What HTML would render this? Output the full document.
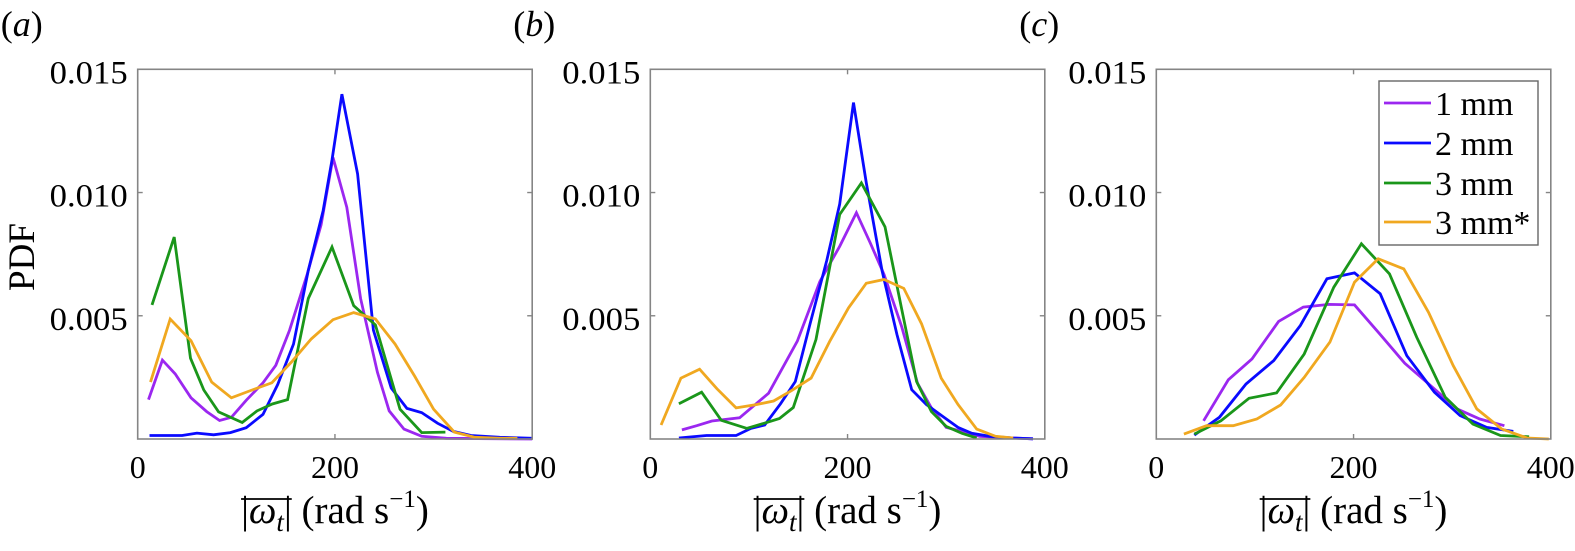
<!DOCTYPE html>
<html><head><meta charset="utf-8"><style>
html,body{margin:0;padding:0;background:#fff;}
svg, svg text{font-family:"Liberation Serif","DejaVu Serif",serif;}
svg{display:block;}
</style></head><body>
<svg id="chart" width="1575" height="551" viewBox="0 0 1575 551" xmlns="http://www.w3.org/2000/svg" font-family="Liberation Serif, DejaVu Serif, serif"></svg>
<script>
const xTicks=[0,200,400];
const yTicks=[0.005,0.010,0.015];
const yTickLabels=["0.005","0.010","0.015"];
const seriesNames=["1 mm","2 mm","3 mm","3 mm*"];
const seriesKeys=["1mm","2mm","3mm","3mm-star"];
const colors=["#9b27f0","#0a0aff","#1a961a","#f0a820"];
const panelLabels=["a","b","c"];
// panel a
const aX1=[11,25,38,54,70,83,95,110,127,140,154,172,186,198,212,226,243,255,270,288,313,400];
const aY1=[.0016,.0032,.00264,.00167,.00111,.00075,.00088,.00157,.00228,.00299,.00442,.0067,.00869,.01142,.0094,.0057,.00271,.00114,.0004,.00011,.00003,0];
const aX2=[12,31,45,60,77,94,110,127,142,158,173,188,197,207,223,239,257,273,288,304,320,338,367,400];
const aY2=[.00014,.00014,.00014,.00024,.00017,.00026,.00046,.001,.00221,.00385,.00684,.00926,.01132,.01399,.01075,.00442,.00207,.00124,.00107,.00064,.00031,.00014,.00007,.00003];
const aX3=[14.5,37,53.5,67,82,106,121,136.5,152,173,197,219,241,253,266,288,312];
const aY3=[.00544,.00819,.00328,.00199,.0011,.00067,.00114,.00142,.0016,.0057,.00779,.00541,.00463,.00299,.00121,.00026,.00028];
const aX4=[13,33,54,75,95,116,136,156,176,198,219,241,261,281,300,321,342,367,385];
const aY4=[.00231,.00487,.00399,.00231,.00167,.00199,.00228,.00313,.00406,.00484,.00513,.00487,.00385,.00254,.00121,.00028,.00007,.00003,.00003];
// panel b
const bX1=[32,47,62.5,90.5,120,149,172,192,209,223,237,255,271,285,300,314,334,368,388];
const bY1=[.00037,.00054,.00073,.00086,.00186,.00397,.00639,.00782,.00918,.00796,.00668,.00454,.00225,.00126,.00047,.00033,.00011,.00004,.00001];
const bX2=[29,57,87,102,116,132,147,162,179,192,206,219,235,250,265,280,297,312,326,344,368,388];
const bY2=[.00004,.00014,.00014,.00043,.00057,.00143,.00233,.00468,.00725,.00953,.01365,.01039,.00682,.00425,.002,.0014,.0009,.00047,.00023,.00011,.00004,.00001];
const bX3=[29,52,72,98,113,131,145,168,192,214,238,255,270,285,300,316,331];
const bY3=[.00143,.0019,.00076,.00043,.00061,.00083,.00128,.00404,.00911,.01039,.00861,.00525,.00233,.00111,.00051,.00023,.00004];
const bX4=[11,31,50,67.5,87,108,125,143.5,163,182,201,219,237,257,275,295,312,331,350,368];
const bY4=[.00057,.00247,.00283,.00204,.00126,.0014,.00154,.00197,.00247,.00397,.00532,.00632,.00647,.00611,.00468,.00247,.0014,.0004,.00011,.00004];
// panel c
const cX1=[48,73,97,124,149,175,201,226,252,278,305,328,353];
const cY1=[.00074,.0024,.00325,.00477,.00535,.00546,.00544,.00429,.00307,.00217,.00122,.00081,.00054];
const cX2=[38.5,64,91,119,146,173,201,227,254,282,308,335,362];
const cY2=[.00016,.00088,.00223,.00318,.0046,.0065,.00674,.00589,.00338,.0019,.00095,.00047,.00031];
const cX3=[38.5,65.5,94,122,150,180,208,236.5,264,293,321,349,378];
const cY3=[.0002,.00074,.00165,.00187,.00345,.00616,.00792,.0067,.00413,.00169,.00061,.00014,.00009];
const cX4=[28,51,78,102,126,150,176,201,225,251,276,301,325,350,376,398];
const cY4=[.0002,.00054,.00054,.00081,.00138,.0025,.00393,.00636,.00731,.0069,.00514,.00298,.00122,.00041,.00004,0];

const panelX=[[aX1,aX2,aX3,aX4],[bX1,bX2,bX3,bX4],[cX1,cX2,cX3,cX4]];
const panelY=[[aY1,aY2,aY3,aY4],[bY1,bY2,bY3,bY4],[cY1,cY2,cY3,cY4]];

const NS="http://www.w3.org/2000/svg";
const svg=document.getElementById('chart');
const FF='Liberation Serif, DejaVu Serif, serif';
function mk(tag,attrs,parent){const e=document.createElementNS(NS,tag);for(const k in attrs)e.setAttribute(k,attrs[k]);if(tag==='text')e.setAttribute('font-family',FF);(parent||svg).appendChild(e);return e;}
function tspan(parent,txt,attrs){const t=mk('tspan',attrs||{},parent);t.textContent=txt;return t;}
const lefts=[137.7,650.3,1156.3];
const plotW=394.5, yTop=69.3, yBottom=439;
const xMax=400,yMax=0.015;

lefts.forEach((L,p)=>{
  const xs=v=>L+v/xMax*plotW;
  const ys=v=>yBottom-v/yMax*(yBottom-yTop);
  const g=mk('g',{});
  
  
  const lab=mk('text',{x:L-137,y:36,'font-size':36},g);
  
  
  tspan(lab,'(');tspan(lab,panelLabels[p],{'font-style':'italic'});tspan(lab,')');
  panelX[p].forEach((xa,s)=>{
    const ya=panelY[p][s];
    const pts=xa.map((x,i)=>xs(x).toFixed(1)+','+ys(ya[i]).toFixed(1)).join(' ');
    const pl=mk('polyline',{points:pts,fill:'none',stroke:colors[s],'stroke-width':2.8},g);
    
    
  });
  const fr=mk('rect',{x:L,y:yTop,width:plotW,height:yBottom-yTop,fill:'none',stroke:'#858585','stroke-width':1.6},g);
  
  
  xTicks.forEach(t=>{
    const x=xs(t);
    mk('line',{x1:x,y1:yBottom,x2:x,y2:yBottom-5,stroke:'#858585','stroke-width':1.4},g);
    mk('line',{x1:x,y1:yTop,x2:x,y2:yTop+5,stroke:'#858585','stroke-width':1.4},g);
    const tl=mk('text',{x:x,y:478,'font-size':32,'text-anchor':'middle'},g);
    
    
    tl.textContent=t;
  });
  yTicks.forEach((t,i)=>{
    const y=ys(t);
    mk('line',{x1:L,y1:y,x2:L+5,y2:y,stroke:'#858585','stroke-width':1.4},g);
    mk('line',{x1:L+plotW,y1:y,x2:L+plotW-5,y2:y,stroke:'#858585','stroke-width':1.4},g);
    const tl=mk('text',{x:L-88,y:y+14,'font-size':33,textLength:78,lengthAdjust:'spacingAndGlyphs'},g);
    
    
    tl.textContent=yTickLabels[i];
  });
  const xt=mk('text',{x:L+plotW/2,y:523,'font-size':39,'text-anchor':'middle'},g);
  
  
  tspan(xt,'|');tspan(xt,'ω',{'font-style':'italic'});tspan(xt,'t',{'font-style':'italic','font-size':27,dy:8});
  tspan(xt,'|',{dy:-8});tspan(xt,' (rad s');tspan(xt,'−1',{'font-size':25,dy:-16});tspan(xt,')',{dy:16});
  let x0=L+plotW/2-95, x1=x0+48;
  try{const a=xt.getExtentOfChar(0), b=xt.getExtentOfChar(3); x0=a.x; x1=b.x+b.width;}catch(e){}
  const ol=mk('line',{x1:x0,y1:499,x2:x1,y2:499,stroke:'#000','stroke-width':1.8},g);
  
  
});
const yt=mk('text',{x:0,y:0,'font-size':37,'text-anchor':'middle',transform:'translate(34,257) rotate(-90)'});


yt.textContent='PDF';
const lg=mk('g',{});


mk('rect',{x:1379,y:81,width:159,height:164,fill:'#fff',stroke:'#666','stroke-width':1.4},lg);
const rowY=[103,143,183,222];
seriesNames.forEach((n,i)=>{
  const e=mk('g',{},lg);
  
  
  mk('line',{x1:1384,y1:rowY[i],x2:1431,y2:rowY[i],stroke:colors[i],'stroke-width':2.8},e);
  const t=mk('text',{x:1435,y:rowY[i]+12,'font-size':34},e);
  t.textContent=n;
});
</script>
</body></html>
